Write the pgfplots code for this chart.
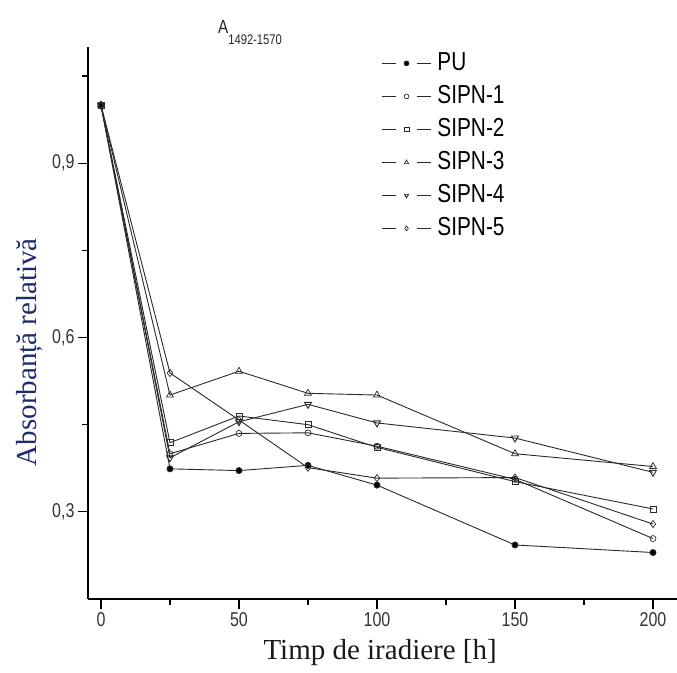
\documentclass[border=0pt]{standalone}
\usepackage{fontspec}
\setmainfont{Liberation Serif}
\newfontfamily\narrowsans[FakeStretch=0.8]{Liberation Sans}
\usepackage{pgfplots}
\pgfplotsset{compat=1.18}

\definecolor{labelblue}{HTML}{1C2A6E}
\definecolor{ln}{HTML}{2A2A2A}

\begin{document}
\begin{tikzpicture}
\useasboundingbox (-88bp,-74bp) rectangle (589bp,599bp);
\begin{axis}[
  at={(0,0)}, anchor=south west,
  scale only axis, width=589bp, height=552bp,
  xmin=-4.7, xmax=208.7, ymin=0.15, ymax=1.1,
  axis lines*=left,
  axis line style={line width=1.3bp, black},
  xtick={0,50,...,200}, minor xtick={25,75,125,175},
  ytick={0.3,0.6,0.9}, minor ytick={0.45,0.75,1.05},
  tick align=outside, major tick length=10bp, minor tick length=6bp,
  every tick/.style={line width=1.2bp, black},
  tick label style={font=\narrowsans\fontsize{20bp}{20bp}\selectfont, text=black!80},
  /pgf/number format/assume math mode=true,
  yticklabel style={/pgf/number format/.cd, fixed, fixed zerofill, precision=1, use comma},
  xlabel={Timp de iradiere [h]},
  xlabel style={font=\fontsize{29bp}{30bp}\selectfont, text=black!90,
    at={(axis description cs:0.496,-0.1105)}, anchor=base},
  ylabel={Absorbanță relativă},
  ylabel style={font=\fontsize{29bp}{30bp}\selectfont, text=labelblue,
    at={(axis description cs:-0.0985,0.447)}, anchor=center},
  clip=false,
  every axis plot/.append style={color=ln, line width=0.9bp, mark size=3bp,
    mark options={fill=white, line width=0.7bp}},
  legend style={at={(axis description cs:0.493,0.996)}, anchor=north west,
    draw=none, fill=none, row sep=9bp,
    font=\narrowsans\fontsize{26bp}{26bp}\selectfont,
    nodes={inner sep=0pt, text height=19bp, text depth=5bp}},
  legend cell align=left,
  legend image code/.code={
    \draw[mark=none] (0bp,0bp) -- (14bp,0bp);
    \draw[mark=none] (35bp,0bp) -- (49bp,0bp);
    \draw[mark size=2.4bp] plot coordinates {(24.5bp,0bp)};
    \path (55bp,0bp);
  },
]
\addplot[mark=*, mark options={fill=black}] coordinates {
  (0,1) (25,0.374) (50,0.371) (75,0.380) (100,0.346) (150,0.243) (200,0.230)};
\addlegendentry{PU}
\addplot[mark=o] coordinates {
  (0,1) (25,0.400) (50,0.435) (75,0.436) (100,0.413) (150,0.356) (200,0.254)};
\addlegendentry{SIPN-1}
\addplot[mark=square] coordinates {
  (0,1) (25,0.419) (50,0.465) (75,0.450) (100,0.411) (150,0.352) (200,0.305)};
\addlegendentry{SIPN-2}
\addplot[mark=triangle, mark size=4bp] coordinates {
  (0,1) (25,0.501) (50,0.542) (75,0.504) (100,0.501) (150,0.400) (200,0.378)};
\addlegendentry{SIPN-3}
\addplot[mark=triangle, mark size=4bp, mark options={rotate=180}] coordinates {
  (0,1) (25,0.393) (50,0.455) (75,0.485) (100,0.453) (150,0.427) (200,0.368)};
\addlegendentry{SIPN-4}
\addplot[mark=diamond, mark size=3.6bp] coordinates {
  (0,1) (25,0.539) (50,0.458) (75,0.376) (100,0.358) (150,0.359) (200,0.279)};
\addlegendentry{SIPN-5}
\node[anchor=base west, inner sep=0pt, text=black!85] at (axis description cs:0.2207,1.0236)
  {\narrowsans\fontsize{19bp}{19bp}\selectfont A\raisebox{-11bp}{\fontsize{14bp}{14bp}\selectfont 1492-1570}};
\end{axis}
\end{tikzpicture}
\end{document}
